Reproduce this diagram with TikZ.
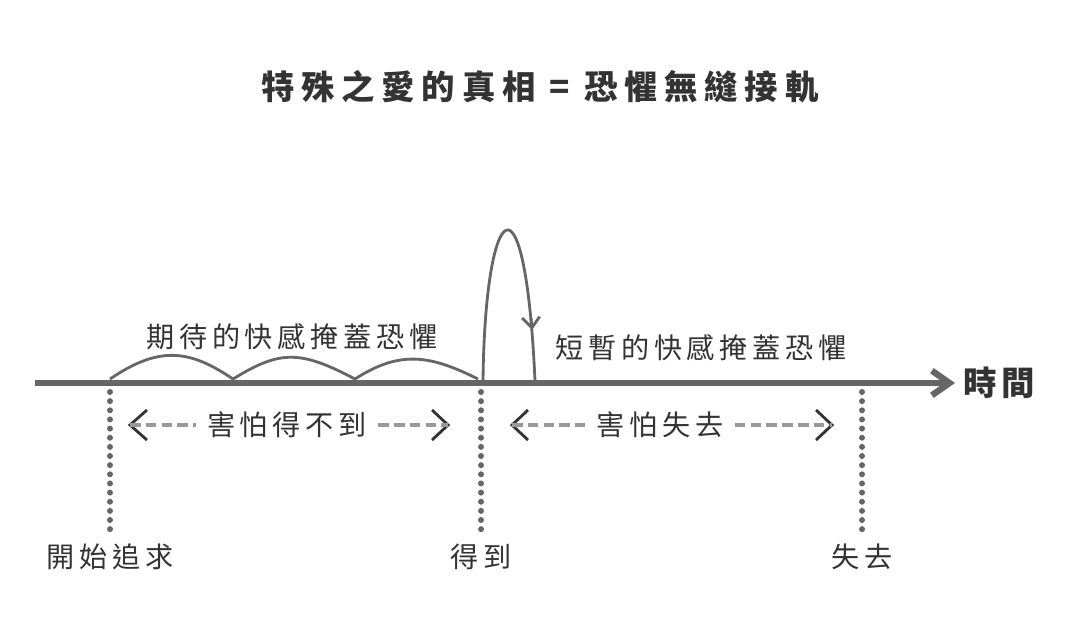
\documentclass[tikz,border=0pt]{standalone}
\usepackage{fontspec}
\setmainfont{Noto Sans CJK TC}
\usetikzlibrary{arrows.meta}
\definecolor{axis}{HTML}{666666}
\definecolor{ink}{HTML}{333333}
\definecolor{dash}{HTML}{999999}
\tikzset{
  lbl/.style={text=ink,font=\fontsize{8}{9}\selectfont\addfontfeature{LetterSpace=17},inner sep=0pt},
  curve/.style={draw=axis,line width=0.8pt},
  milestone/.style={draw=axis,line width=1.7pt,line cap=round,dash pattern=on 0pt off 2.6pt},
  gap/.style={draw=dash,line width=0.9pt,dash pattern=on 3pt off 1.5pt},
  brk/.style={draw=ink,line width=0.8pt},
}
\begin{document}
\begin{tikzpicture}[x=0.01cm,y=-0.01cm]
  \useasboundingbox (0,0) rectangle (1080,636);
  \node[lbl,font=\fontsize{9.5}{10}\selectfont\bfseries\addfontfeature{LetterSpace=20}] (title) at (540,87) {特殊之愛的真相 = 恐懼無縫接軌};
  % time axis
  \coordinate (A0) at (35,383);
  \coordinate (A1) at (955,383);
  \draw[draw=axis,line width=1.8pt,-{Straight Barb[length=5pt,width=7pt]}] (A0) -- (A1);
  \node[lbl,font=\fontsize{9.5}{10}\selectfont\bfseries\addfontfeature{LetterSpace=12},anchor=west] (time) at (963,383) {時間};
  % bumps of waiting
  \coordinate (b0) at (110,379);
  \coordinate (b1) at (233,379);
  \coordinate (b2) at (355,379);
  \coordinate (b3) at (478,379);
  \draw[curve] (b0) .. controls (160,345) and (190,350) .. (b1)
               .. controls (280,350) and (300,350) .. (b2)
               .. controls (400,350) and (430,355) .. (b3);
  % short peak
  \coordinate (p0) at (483,381);
  \coordinate (p1) at (535,381);
  \draw[curve] (p0) .. controls (485,200) and (525,160) .. (p1);
  \draw[curve,-{Straight Barb[length=3pt,width=5pt]}] (531,318) -- (532,330);
  \node[lbl] (hope) at (292,337) {期待的快感掩蓋恐懼};
  \node[lbl] (short) at (701,348) {短暫的快感掩蓋恐懼};
  % milestones
  \foreach \n/\x/\t in {start/110/開始追求,get/481/得到,lose/862/失去}{
    \coordinate (\n top) at (\x,392);
    \coordinate (\n bot) at (\x,533);
    \draw[milestone] (\n top) -- (\n bot);
    \node[lbl] (\n) at (\x,557) {\t};
  }
  % fear spans
  \node[lbl] (fear1) at (287,425) {害怕得不到};
  \node[lbl] (fear2) at (660,425) {害怕失去};
  \coordinate (l1) at (130,425); \coordinate (r1) at (448,425);
  \coordinate (l2) at (512,425); \coordinate (r2) at (832,425);
  \draw[brk] (147,410) -- (l1) -- (147,440);
  \draw[brk] (432,410) -- (r1) -- (432,440);
  \draw[brk] (528,410) -- (l2) -- (528,440);
  \draw[brk] (816,410) -- (r2) -- (816,440);
  \draw[gap,shorten >=3pt] (l1) -- (fear1.west);
  \draw[gap,shorten <=3pt] (fear1.east) -- (r1);
  \draw[gap,shorten >=3pt] (l2) -- (fear2.west);
  \draw[gap,shorten <=3pt] (fear2.east) -- (r2);
\end{tikzpicture}
\end{document}
